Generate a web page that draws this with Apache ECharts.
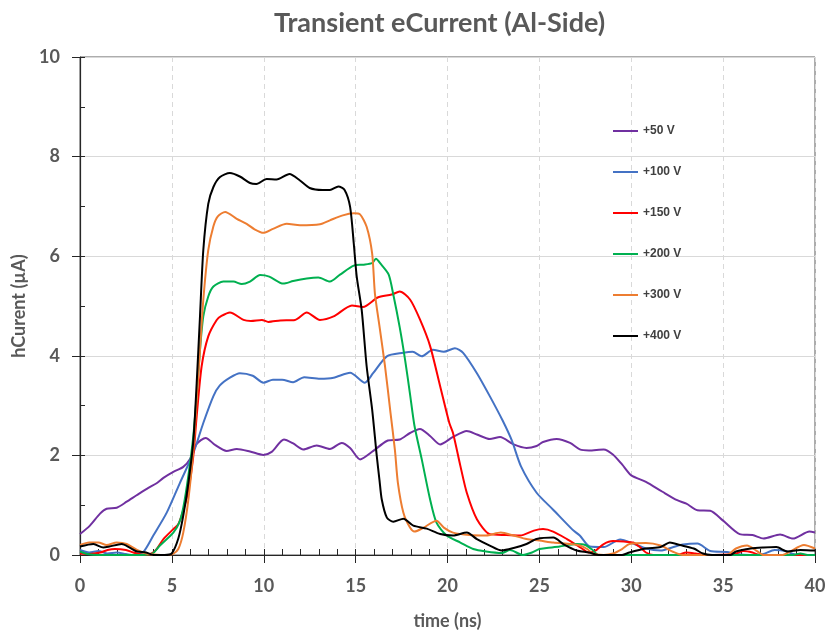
<!DOCTYPE html>
<html>
<head>
<meta charset="utf-8">
<script src="https://cdn.jsdelivr.net/npm/echarts@6/dist/echarts.min.js"></script>
<style>html,body{margin:0;padding:0;background:#fff;}#c{width:829px;height:635px;}</style>
</head>
<body>
<div id="c"></div>
<script>
// time (ns), current (µA) pairs
const seriesNames = ['+50 V', '+100 V', '+150 V', '+200 V', '+300 V', '+400 V'];
const xTicks = [0, 5, 10, 15, 20, 25, 30, 35, 40];
const yTicks = [0, 2, 4, 6, 8, 10];

const v50 = [[0,0.42],[0.54,0.59],[1.09,0.83],[1.45,0.93],[2.0,0.95],[2.54,1.07],[3.08,1.2],[3.72,1.35],[4.17,1.44],[4.54,1.55],[5.08,1.67],[5.62,1.77],[5.99,1.93],[6.35,2.23],[6.84,2.35],[7.35,2.21],[7.98,2.09],[8.53,2.13],[9.25,2.08],[9.98,2.01],[10.43,2.07],[11.1,2.32],[11.6,2.24],[12.15,2.12],[12.88,2.2],[13.6,2.13],[14.24,2.25],[14.7,2.15],[15.24,1.92],[15.96,2.09],[16.7,2.29],[17.4,2.32],[17.96,2.45],[18.5,2.53],[19.05,2.39],[19.6,2.22],[20.3,2.37],[21.05,2.49],[21.6,2.42],[22.3,2.33],[22.86,2.37],[23.6,2.22],[24.3,2.15],[24.85,2.19],[25.2,2.27],[25.94,2.33],[26.67,2.25],[27.2,2.12],[27.7,2.1],[28.5,2.12],[29.0,2.02],[29.5,1.82],[30.0,1.6],[30.8,1.47],[31.7,1.27],[32.5,1.1],[33.0,1.03],[33.6,0.9],[34.3,0.89],[35.0,0.69],[35.9,0.42],[36.6,0.4],[37.2,0.33],[38.1,0.41],[38.8,0.33],[39.7,0.47],[40,0.45]];

const v100 = [[0,0.1],[0.5,0.05],[1,0.08],[1.5,0.03],[2,0.05],[2.5,0.02],[3,0.0],[3.45,0.06],[3.99,0.39],[4.72,0.85],[5.44,1.45],[6.17,2.05],[6.71,2.65],[7.26,3.19],[7.6,3.4],[8.16,3.56],[8.7,3.65],[9.4,3.6],[9.98,3.46],[10.5,3.52],[11.0,3.52],[11.6,3.47],[12.2,3.57],[13.06,3.54],[13.8,3.56],[14.7,3.66],[15.5,3.46],[15.95,3.65],[16.7,3.99],[17.6,4.06],[18.1,4.08],[18.6,3.99],[19.2,4.12],[19.8,4.08],[20.4,4.15],[20.85,4.06],[21.6,3.65],[22.3,3.19],[23.0,2.7],[23.5,2.3],[24.0,1.78],[24.85,1.25],[25.75,0.91],[26.8,0.51],[27.2,0.39],[27.75,0.17],[28.5,0.16],[29.4,0.31],[30.1,0.23],[30.8,0.13],[31.6,0.09],[32.3,0.16],[32.8,0.21],[33.6,0.23],[34.3,0.08],[35.2,0.06],[35.7,0.02],[36.5,0.0],[37.2,0.02],[37.8,0.1],[38.4,0.08],[39,0.0],[40,0.0]];

const v150 = [[0,0.03],[0.5,0.02],[1.1,0.05],[1.5,0.1],[1.9,0.12],[2.5,0.1],[2.9,0.05],[3.5,0.0],[3.9,0.03],[4.17,0.12],[4.54,0.32],[5.08,0.52],[5.35,0.62],[5.62,0.9],[5.9,1.3],[6.17,2.0],[6.35,2.79],[6.62,3.79],[6.98,4.39],[7.44,4.72],[7.7,4.8],[8.16,4.87],[8.9,4.72],[9.3,4.7],[9.9,4.72],[10.25,4.68],[10.9,4.71],[11.7,4.72],[12.34,4.87],[13.06,4.72],[13.8,4.79],[14.8,5.01],[15.4,4.98],[16.2,5.17],[16.96,5.23],[17.4,5.29],[17.96,5.13],[18.5,4.73],[19.05,4.2],[19.6,3.39],[20.1,2.65],[20.3,2.45],[20.7,1.79],[21.05,1.25],[21.6,0.72],[22.3,0.42],[23.2,0.4],[23.95,0.39],[24.7,0.49],[25.2,0.52],[25.75,0.47],[26.5,0.32],[27.2,0.16],[27.7,0.05],[28.1,0.1],[28.5,0.22],[29.0,0.28],[29.6,0.27],[30.1,0.25],[30.5,0.15],[30.8,0.05],[31.2,0],[32.5,0.0],[33,0.05],[33.5,0.03],[34,0],[35.6,0.02],[36.1,0.08],[36.6,0.05],[37,0],[40,0]];

const v200 = [[0,0.07],[0.4,0.02],[1,0],[2,0],[3,0],[3.7,0.01],[3.99,0.04],[4.35,0.19],[5.08,0.45],[5.4,0.65],[5.62,0.95],[5.9,1.6],[6.17,2.4],[6.35,3.2],[6.53,4.12],[6.71,4.79],[6.98,5.19],[7.26,5.39],[7.8,5.49],[8.35,5.49],[8.8,5.44],[9.25,5.49],[9.8,5.62],[10.3,5.59],[11.06,5.45],[11.6,5.5],[12.34,5.55],[12.97,5.57],[13.6,5.49],[14.15,5.63],[14.9,5.81],[15.4,5.83],[15.9,5.86],[16.1,5.95],[16.4,5.83],[16.8,5.63],[17.05,5.23],[17.4,4.57],[17.7,3.9],[17.96,3.23],[18.2,2.6],[18.6,1.92],[19.05,1.12],[19.4,0.65],[19.96,0.39],[20.7,0.25],[21.4,0.12],[22.1,0.07],[22.95,0.04],[23.4,0.1],[24.1,0.0],[24.6,0.05],[25.0,0.12],[25.4,0.14],[26.1,0.17],[27.0,0.22],[27.5,0.2],[27.9,0.1],[28.2,0],[35,0],[38.8,0],[39.2,0.03],[39.6,0],[40,0]];

const v300 = [[0,0.2],[0.5,0.25],[1,0.25],[1.45,0.2],[2.0,0.25],[2.54,0.22],[3.1,0.1],[3.6,0.03],[4.4,0],[4.8,0],[5.06,0.02],[5.35,0.12],[5.62,0.45],[5.9,1.12],[6.17,2.12],[6.35,3.12],[6.53,4.12],[6.71,5.12],[6.98,6.12],[7.26,6.6],[7.5,6.8],[7.9,6.89],[8.53,6.75],[9.07,6.65],[9.5,6.54],[9.98,6.47],[10.5,6.55],[11.25,6.65],[11.97,6.62],[13.06,6.64],[13.6,6.72],[14.3,6.82],[14.9,6.86],[15.24,6.84],[15.6,6.59],[15.9,6.05],[16.05,5.25],[16.3,4.59],[16.6,3.79],[16.9,2.85],[17.14,2.1],[17.3,1.45],[17.6,0.85],[17.96,0.55],[18.2,0.47],[18.7,0.55],[19.4,0.69],[19.8,0.55],[20.3,0.45],[21.2,0.4],[22.1,0.39],[22.9,0.45],[23.6,0.39],[24.3,0.32],[25.0,0.29],[25.76,0.25],[26.7,0.22],[27.2,0.19],[27.6,0.12],[27.9,0.03],[28.5,0],[29.0,0.03],[29.5,0.12],[29.9,0.22],[30.8,0.24],[31.6,0.19],[32.3,0.06],[32.8,0.0],[35.2,0],[35.7,0.13],[36.3,0.19],[36.8,0.09],[37.2,0],[38.2,0],[38.6,0.06],[39.4,0.2],[40,0.13]];

const v400 = [[0,0.17],[0.73,0.22],[1.27,0.15],[1.6,0.17],[2.27,0.22],[2.7,0.15],[3.1,0.07],[3.6,0.05],[4.0,0],[4.6,0],[4.99,0.03],[5.35,0.33],[5.62,0.79],[5.9,1.45],[6.17,2.3],[6.35,3.45],[6.53,4.79],[6.71,6.12],[6.98,7.05],[7.26,7.39],[7.62,7.59],[8.16,7.67],[8.7,7.6],[9.25,7.47],[9.6,7.45],[10.16,7.55],[10.7,7.54],[11.4,7.65],[11.97,7.52],[12.5,7.37],[13.2,7.33],[13.6,7.33],[14.06,7.4],[14.4,7.33],[14.7,6.99],[14.9,6.25],[15.06,5.59],[15.33,4.92],[15.6,3.79],[15.9,2.92],[16.15,1.99],[16.3,1.5],[16.42,1.12],[16.7,0.75],[17.05,0.67],[17.6,0.73],[18.14,0.59],[18.87,0.53],[19.6,0.42],[20.3,0.39],[21.05,0.45],[21.6,0.32],[22.3,0.19],[22.95,0.09],[23.6,0.14],[24.3,0.22],[24.85,0.32],[25.76,0.35],[26.3,0.22],[27.03,0.09],[27.7,0.05],[28.2,0],[29.5,0],[29.9,0.05],[30.8,0.13],[31.6,0.16],[32.1,0.25],[32.65,0.2],[33.4,0.13],[33.9,0.03],[34.4,0],[35.4,0],[35.7,0.07],[36.5,0.13],[37.2,0.15],[37.9,0.16],[38.5,0.07],[39.2,0.1],[39.9,0.09],[40,0.09]];

const seriesData = [v50, v100, v150, v200, v300, v400];
const colors = ['#7030A0', '#4472C4', '#FF0000', '#00B050', '#ED7D31', '#000000'];

const chart = echarts.init(document.getElementById('c'), null, {renderer: 'canvas'});
const fontFam = 'Lato, "Open Sans", sans-serif';
const labelStyle = {color: '#595959', fontSize: 18, fontWeight: 'bold', fontFamily: fontFam};

const option = {
  backgroundColor: '#ffffff',
  animation: false,
  title: {
    text: 'Transient eCurrent (Al-Side)',
    left: 269,
    top: 5,
    textStyle: {color: '#595959', fontSize: 27, fontWeight: 'bold', fontFamily: fontFam}
  },
  legend: {
    orient: 'vertical',
    left: 608,
    top: 119,
    icon: 'rect',
    itemWidth: 25,
    itemHeight: 2,
    itemGap: 27,
    data: seriesNames,
    textStyle: {color: '#404040', fontSize: 12, fontWeight: 'bold', fontFamily: 'Liberation Sans, Arial, sans-serif', lineHeight: 14}
  },
  grid: {
    left: 80, right: 14, top: 57, bottom: 79,
    show: true, borderColor: '#5a5a5a', borderWidth: 1, backgroundColor: 'transparent'
  },
  xAxis: [{
    type: 'value', min: xTicks[0], max: xTicks[xTicks.length - 1], interval: 5,
    position: 'bottom',
    name: 'time (ns)', nameLocation: 'middle', nameGap: 57,
    nameTextStyle: labelStyle,
    axisLine: {show: true, lineStyle: {color: '#262626', width: 1.2}},
    axisTick: {show: true, inside: false, length: 8, lineStyle: {color: '#262626'}},
    axisLabel: Object.assign({margin: 22}, labelStyle),
    splitLine: {show: true, lineStyle: {color: '#d9d9d9', type: [5, 4], width: 1}}
  }, {
    type: 'value', min: xTicks[0], max: xTicks[xTicks.length - 1], interval: 5,
    position: 'bottom',
    axisLine: {show: false},
    axisTick: {show: true, inside: true, length: 6, lineStyle: {color: '#262626'}},
    minorTick: {show: true, splitNumber: 5, length: 6, lineStyle: {color: '#262626'}},
    axisLabel: {show: false},
    splitLine: {show: false}
  }],
  yAxis: [{
    type: 'value', min: yTicks[0], max: yTicks[yTicks.length - 1], interval: 2,
    position: 'left',
    name: 'hCurent (µA)', nameLocation: 'middle', nameGap: 48, nameRotate: 90,
    nameTextStyle: labelStyle,
    axisLine: {show: true, lineStyle: {color: '#262626', width: 1.2}},
    axisTick: {show: true, inside: false, length: 8, lineStyle: {color: '#262626'}},
    axisLabel: Object.assign({margin: 20}, labelStyle),
    splitLine: {show: true, lineStyle: {color: '#d9d9d9', type: 'solid', width: 1}}
  }, {
    type: 'value', min: yTicks[0], max: yTicks[yTicks.length - 1], interval: 2,
    position: 'left',
    axisLine: {show: false},
    axisTick: {show: true, inside: true, length: 5, lineStyle: {color: '#262626'}},
    minorTick: {show: true, splitNumber: 2, length: 5, lineStyle: {color: '#262626'}},
    axisLabel: {show: false},
    splitLine: {show: false}
  }],
  series: seriesNames.map((n, i) => ({
    name: n,
    type: 'line',
    data: seriesData[i],
    xAxisIndex: 0, yAxisIndex: 0,
    symbol: 'none',
    smooth: 0.25,
    color: colors[i],
    lineStyle: {color: colors[i], width: 2},
    clip: true,
    z: 2 + i
  }))
};
chart.setOption(option);
</script>
</body>
</html>
